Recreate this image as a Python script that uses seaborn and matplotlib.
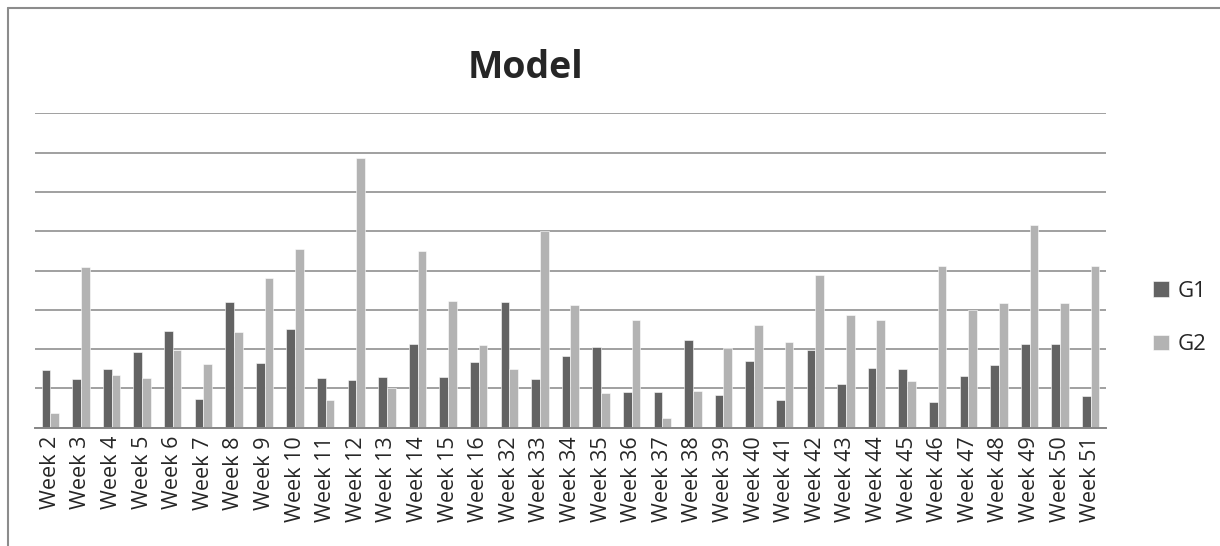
import pandas as pd
import matplotlib.pyplot as plt
from matplotlib.lines import Line2D
import seaborn as sns

# 週ラベル
weeks = ['Week 2', 'Week 3', 'Week 4', 'Week 5', 'Week 6', 'Week 7', 'Week 8',
         'Week 9', 'Week 10', 'Week 11', 'Week 12', 'Week 13', 'Week 14',
         'Week 15', 'Week 16', 'Week 32', 'Week 33', 'Week 34', 'Week 35',
         'Week 36', 'Week 37', 'Week 38', 'Week 39', 'Week 40', 'Week 41',
         'Week 42', 'Week 43', 'Week 44', 'Week 45', 'Week 46', 'Week 47',
         'Week 48', 'Week 49', 'Week 50', 'Week 51']

# 系列の値
g1 = [1.47, 1.24, 1.49, 1.92, 2.46, 0.72, 3.20, 1.64, 2.50, 1.26, 1.22, 1.30,
      2.12, 1.29, 1.68, 3.21, 1.25, 1.83, 2.05, 0.90, 0.90, 2.22, 0.84, 1.70,
      0.70, 1.98, 1.10, 1.53, 1.49, 0.65, 1.32, 1.59, 2.13, 2.12, 0.81]
g2 = [0.37, 4.10, 1.34, 1.26, 1.98, 1.62, 2.43, 3.82, 4.55, 0.70, 6.87, 1.00,
      4.50, 3.22, 2.10, 1.49, 5.00, 3.12, 0.88, 2.75, 0.25, 0.93, 2.02, 2.61,
      2.18, 3.88, 2.87, 2.75, 1.18, 4.12, 3.00, 3.17, 5.17, 3.17, 4.12]

series_names = ['G1', 'G2']
colors = ['#636363', '#b3b3b3']

df = pd.DataFrame({
    'week': weeks * 2,
    'value': g1 + g2,
    'series': ['G1'] * len(weeks) + ['G2'] * len(weeks),
})

sns.set_style('white')
plt.rcParams['font.family'] = ['Open Sans', 'DejaVu Sans']

fig = plt.figure(figsize=(12.2, 5.46), dpi=100)
ax = fig.add_axes([35 / 1220, 1 - 427.7 / 546, (1106 - 35) / 1220, (427.7 - 113.3) / 546])

sns.barplot(data=df, x='week', y='value', hue='series', order=weeks,
            hue_order=series_names, palette=colors, width=0.57,
            saturation=1, edgecolor='white', linewidth=0.4, ax=ax, legend=True)

ax.set_ylim(0, 8)
ax.set_xlim(-0.5, len(weeks) - 0.5)
ax.set_yticks(range(0, 9))
ax.set_yticklabels([])
ax.yaxis.grid(True, color='#868686', linewidth=1.1)
ax.set_axisbelow(True)
ax.tick_params(axis='both', length=0)
ax.tick_params(axis='x', pad=6, labelsize=15.5, rotation=90)
ax.set_xlabel('')
ax.set_ylabel('')
for side in ['top', 'right', 'left']:
    ax.spines[side].set_visible(False)
ax.spines['bottom'].set_color('#868686')
ax.spines['bottom'].set_linewidth(1.4)

# 凡例
handles, labels = ax.get_legend_handles_labels()
ax.get_legend().remove()
fig.legend(handles, labels, loc='center left', bbox_to_anchor=(1133 / 1220, 1 - 318 / 546),
           frameon=False, fontsize=16, handlelength=0.7, handleheight=0.7,
           handletextpad=0.4, labelspacing=1.45)

# タイトル
fig.text(525 / 1220, 1 - 68 / 546, 'Model', ha='center', va='center',
         fontsize=27, fontweight='bold')

# 外枠
fig.add_artist(Line2D([8 / 1220, 1], [1 - 8 / 546] * 2, color='#8c8c8c', linewidth=1.5))
fig.add_artist(Line2D([8 / 1220] * 2, [0, 1 - 8 / 546], color='#8c8c8c', linewidth=1.5))

fig.savefig('out.png', dpi=100)
